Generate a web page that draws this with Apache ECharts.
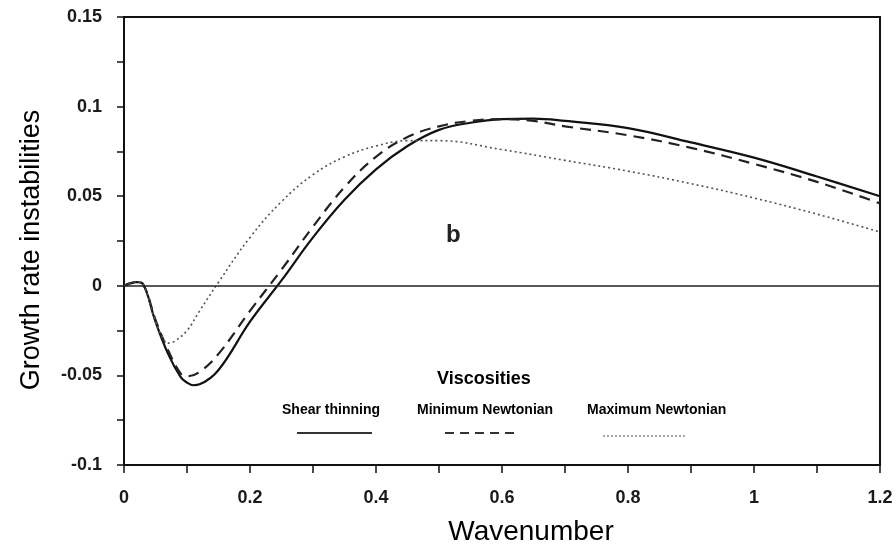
<!DOCTYPE html>
<html><head><meta charset="utf-8">
<script src="https://cdn.jsdelivr.net/npm/echarts@6/dist/echarts.min.js"></script>
<style>html,body{margin:0;padding:0;background:#fff}#c{width:896px;height:549px}</style>
</head><body><div id="c"></div>
<script>
const xShear = [0,0.02,0.03,0.05,0.07,0.09,0.1,0.11,0.12,0.15,0.2,0.25,0.3,0.35,0.4,0.45,0.5,0.55,0.6,0.65,0.7,0.8,0.9,1.0,1.1,1.2];
const yShear = [0,0.002,0.001,-0.02,-0.038,-0.051,-0.054,-0.0555,-0.055,-0.047,-0.02,0.003,0.027,0.048,0.065,0.078,0.087,0.091,0.093,0.0933,0.092,0.088,0.080,0.0715,0.061,0.050];
const xMinN = [0,0.02,0.03,0.05,0.07,0.09,0.1,0.12,0.15,0.2,0.25,0.3,0.35,0.4,0.45,0.5,0.55,0.6,0.65,0.7,0.8,0.9,1.0,1.1,1.2];
const yMinN = [0,0.002,0.001,-0.019,-0.036,-0.049,-0.0505,-0.048,-0.038,-0.014,0.009,0.033,0.055,0.072,0.083,0.089,0.092,0.093,0.092,0.089,0.084,0.077,0.068,0.058,0.046];
const xMaxN = [0,0.02,0.03,0.05,0.06,0.07,0.08,0.1,0.12,0.15,0.2,0.25,0.3,0.35,0.4,0.45,0.5,0.6,0.7,0.8,0.9,1.0,1.1,1.2];
const yMaxN = [0,0.002,0.001,-0.02,-0.028,-0.032,-0.031,-0.025,-0.014,0.002,0.027,0.047,0.062,0.072,0.078,0.081,0.081,0.076,0.070,0.064,0.057,0.049,0.040,0.030];
const seriesNames = ['Shear thinning','Minimum Newtonian','Maximum Newtonian'];
const xTicks = [0,0.2,0.4,0.6,0.8,1,1.2];
const yTicks = [-0.1,-0.05,0,0.05,0.1,0.15];

const pair = (xs, ys) => xs.map((x, i) => [x, ys[i]]);
const font = 'Liberation Sans, Arial, sans-serif';
const chart = echarts.init(document.getElementById('c'));
chart.setOption({
  animation: false,
  backgroundColor: '#fff',
  grid: {left: 124, right: 16, top: 17, bottom: 84, outerBoundsMode: 'none', containLabel: false,
         show: true, borderColor: '#111', borderWidth: 2},
  xAxis: {
    type: 'value', min: 0, max: 1.2, interval: 0.1,
    axisLine: {onZero: false, lineStyle: {color: '#111', width: 2}},
    axisTick: {length: 8, lineStyle: {color: '#111', width: 1.5}},
    splitLine: {show: false},
    axisLabel: {color: '#1a1a1a', fontFamily: font, fontSize: 18, fontWeight: 'bold', margin: 24,
      formatter: v => { const r = Math.round(v*10)/10; return xTicks.some(t => Math.abs(t - r) < 1e-9) ? String(r) : ''; }},
    name: 'Wavenumber', nameLocation: 'middle', nameGap: 53,
    nameTextStyle: {color: '#000', fontFamily: font, fontSize: 28, padding: [0, 0, 0, 58]}
  },
  yAxis: {
    type: 'value', min: -0.1, max: 0.15, interval: 0.025,
    axisLine: {show: true, lineStyle: {color: '#111', width: 2}},
    axisTick: {length: 7, lineStyle: {color: '#111', width: 1.5}},
    splitLine: {show: false},
    axisLabel: {color: '#1a1a1a', fontFamily: font, fontSize: 18, fontWeight: 'bold', margin: 22,
      formatter: v => { const r = Math.round(v*1000)/1000; return yTicks.some(t => Math.abs(t - r) < 1e-9) ? String(r) : ''; }},
    name: 'Growth rate instabilities', nameLocation: 'middle', nameGap: 79,
    nameTextStyle: {color: '#000', fontFamily: font, fontSize: 27, padding: [0, 18, 0, 0]}
  },
  series: [
    {name: seriesNames[0], type: 'line', data: pair(xShear, yShear), smooth: 0.4, symbol: 'none',
     lineStyle: {color: '#111', width: 2.2},
     markLine: {silent: true, symbol: 'none', label: {show: false},
       lineStyle: {color: '#222', width: 1.5, type: 'solid'}, data: [{yAxis: 0}]}},
    {name: seriesNames[1], type: 'line', data: pair(xMinN, yMinN), smooth: 0.4, symbol: 'none',
     lineStyle: {color: '#222', width: 2.2, type: [11, 7]}},
    {name: seriesNames[2], type: 'line', data: pair(xMaxN, yMaxN), smooth: 0.4, symbol: 'none',
     lineStyle: {color: '#555', width: 1.6, type: [2, 3]}}
  ],
  graphic: [
    {type: 'text', left: 446, top: 223, style: {text: 'b', font: 'bold 24px ' + font, fill: '#222'}},
    {type: 'text', left: 437, top: 370, style: {text: 'Viscosities', font: 'bold 18px ' + font, fill: '#000'}},
    {type: 'text', left: 282, top: 403, style: {text: seriesNames[0], font: 'bold 14px ' + font, fill: '#000'}},
    {type: 'text', left: 417, top: 403, style: {text: seriesNames[1], font: 'bold 14px ' + font, fill: '#000'}},
    {type: 'text', left: 587, top: 403, style: {text: seriesNames[2], font: 'bold 14px ' + font, fill: '#000'}},
    {type: 'line', shape: {x1: 297, y1: 433, x2: 372, y2: 433}, style: {stroke: '#333', lineWidth: 2}},
    {type: 'line', shape: {x1: 445, y1: 433, x2: 517, y2: 433}, style: {stroke: '#333', lineWidth: 2, lineDash: [9, 6]}},
    {type: 'line', shape: {x1: 603, y1: 436, x2: 687, y2: 436}, style: {stroke: '#888', lineWidth: 1.5, lineDash: [2, 2]}}
  ]
});
</script></body></html>
